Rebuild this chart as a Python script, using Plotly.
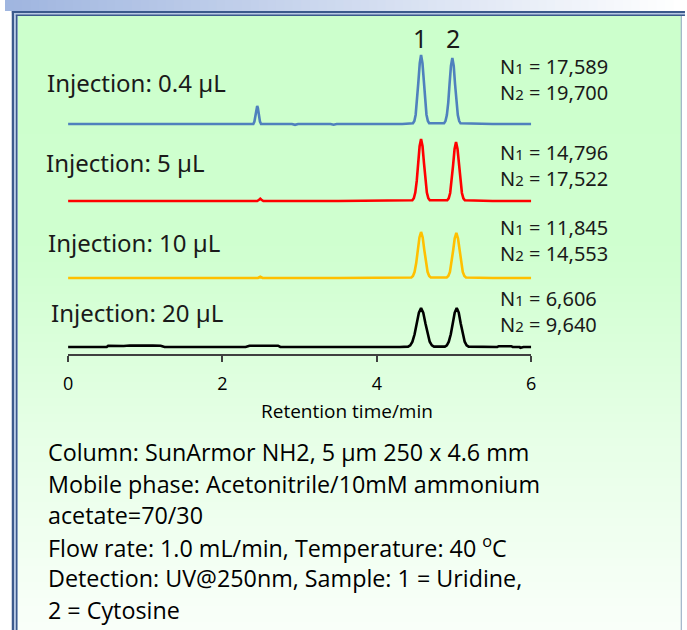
import plotly.graph_objects as go

W, H = 687, 630

# ---------------- data ----------------
injections = ["Injection: 0.4 µL", "Injection: 5 µL", "Injection: 10 µL", "Injection: 20 µL"]
plate_n1 = ["17,589", "14,796", "11,845", "6,606"]
plate_n2 = ["19,700", "17,522", "14,553", "9,640"]
peak_labels = ["1", "2"]
x_ticks = [0, 2, 4, 6]
x_title = "Retention time/min"
conditions = [
    "Column: SunArmor NH2, 5 µm 250 x 4.6 mm",
    "Mobile phase: Acetonitrile/10mM ammonium",
    "acetate=70/30",
    "Flow rate: 1.0 mL/min, Temperature: 40 <sup>o</sup>C",
    "Detection: UV@250nm, Sample: 1 = Uridine,",
    "2 = Cytosine",
]

# 0.4 uL (blue)
t_04 = [0.0, 1.0, 2.0, 2.40, 2.414, 2.423, 2.432, 2.441, 2.450, 2.459, 2.468, 2.477, 2.486, 2.50,
        2.90, 2.94, 2.98, 3.40, 3.44, 3.48, 3.85, 3.89, 3.93, 4.25, 4.29, 4.33,
        4.468, 4.486, 4.503, 4.521, 4.538, 4.556, 4.573, 4.591, 4.608, 4.626, 4.643, 4.661, 4.678,
        4.871, 4.889, 4.907, 4.925, 4.942, 4.960, 4.978, 4.996, 5.013, 5.031, 5.049, 5.067, 5.084,
        5.5, 6.0]
s_04 = [0, 0, 0, 0, 2.4, 5.8, 10.9, 15.9, 18, 15.9, 10.9, 5.8, 2.4, 0,
        0, -0.8, 0, 0, -0.7, 0, 0, -0.7, 0, 0, -0.6, 0,
        0.8, 3.0, 9.3, 22.4, 41.8, 60.9, 69, 60.9, 41.8, 22.4, 9.3, 3.0, 0.8,
        0.7, 2.9, 8.9, 21.4, 40.0, 58.2, 66, 58.2, 40.0, 21.4, 8.9, 2.9, 0.7,
        0, 0]

# 5 uL (red)
t_5 = [0.0, 1.0, 2.0, 2.45, 2.475, 2.49, 2.505, 2.53, 3.5,
       4.460, 4.479, 4.498, 4.517, 4.535, 4.554, 4.573, 4.592, 4.611, 4.629, 4.648, 4.667, 4.686,
       4.912, 4.931, 4.950, 4.969, 4.988, 5.007, 5.026, 5.045, 5.064, 5.083, 5.102, 5.121, 5.140,
       5.5, 6.0]
s_5 = [0, 0, 0, 0, 1.2, 2.2, 1.2, 0, 0,
       0.7, 2.7, 8.4, 20.1, 37.6, 54.7, 62, 54.7, 37.6, 20.1, 8.4, 2.7, 0.7,
       0.7, 2.6, 8.0, 19.2, 35.8, 52.1, 59, 52.1, 35.8, 19.2, 8.0, 2.6, 0.7,
       0, 0]

# 10 uL (yellow)
t_10 = [0.0, 1.0, 2.0, 2.46, 2.49, 2.52, 3.5,
        4.447, 4.468, 4.489, 4.510, 4.531, 4.552, 4.573, 4.594, 4.615, 4.636, 4.657, 4.678, 4.699,
        4.905, 4.926, 4.947, 4.967, 4.988, 5.009, 5.030, 5.051, 5.072, 5.093, 5.113, 5.134, 5.155,
        5.5, 6.0]
s_10 = [0, 0, 0, 0, 1.2, 0, 0,
        0.5, 2.0, 6.2, 14.9, 27.9, 40.6, 46, 40.6, 27.9, 14.9, 6.2, 2.0, 0.5,
        0.5, 2.0, 6.1, 14.6, 27.3, 39.7, 45, 39.7, 27.3, 14.6, 6.1, 2.0, 0.5,
        0, 0]

# 20 uL (black)
t_20 = [0.0, 0.30, 0.50, 0.52, 0.60, 0.65, 0.72, 0.80, 0.90, 0.95, 1.00, 1.05, 1.10, 1.20, 1.25,
        2.30, 2.35, 2.72, 2.75, 4.30,
        4.405, 4.433, 4.461, 4.489, 4.517, 4.545, 4.573, 4.601, 4.629, 4.657, 4.685, 4.713, 4.741,
        4.881, 4.907, 4.932, 4.958, 4.984, 5.009, 5.035, 5.061, 5.086, 5.112, 5.138, 5.163, 5.189,
        5.56, 5.58, 5.74, 5.76, 5.85, 5.86, 5.90, 6.0]
s_20 = [0, 0, 0, 1.3, 1.0, 1.4, 1.0, 1.5, 1.3, 1.0, 1.4, 1.0, 1.4, 1.3, 0,
        0, 1.3, 1.3, 0, 0,
        0.4, 1.7, 5.3, 12.7, 23.7, 34.4, 39, 34.4, 23.7, 12.7, 5.3, 1.7, 0.4,
        0.4, 1.7, 5.3, 12.7, 23.7, 34.4, 39, 34.4, 23.7, 12.7, 5.3, 1.7, 0.4,
        0, 0.8, 0.8, 0, 0, -0.8, 0, 0]

times = [t_04, t_5, t_10, t_20]
signals = [s_04, s_5, s_10, s_20]

# ---------------- styles / layout ----------------
colors = ["#4f81bd", "#ff0000", "#ffc000", "#000000"]
offsets = [230, 153, 76, 7]          # vertical stacking of the chromatograms
inj_label_pos = [(41, 83), (40, 163), (42, 243), (45, 312)]
n_label_y = [79, 165.5, 240.5, 311.5]

PLOT_L, PLOT_R, PLOT_T, PLOT_B = 64, 534, 30, 354
Y_SPAN = PLOT_B - PLOT_T

GOTHIC = "Noto Sans"
CALIBRI = "Open Sans"


def px(x):
    return x / W


def py(y):
    return 1 - y / H


fig = go.Figure()
for t, s, c, off in zip(times, signals, colors, offsets):
    fig.add_trace(go.Scatter(x=t, y=[v + off for v in s], mode="lines",
                             line=dict(color=c, width=2.6), hoverinfo="skip",
                             showlegend=False))

shapes = []
# top band horizontal gradient
n = 80
for i in range(n):
    f = i / (n - 1)
    r = int(160 + (255 - 160) * f)
    g = int(182 + (255 - 182) * f)
    b = int(224 + (255 - 224) * f)
    shapes.append(dict(type="rect", xref="paper", yref="paper",
                       x0=px(W * i / n), x1=px(W * (i + 1) / n + 1), y0=py(0), y1=py(11),
                       fillcolor=f"rgb({r},{g},{b})", line=dict(width=0), layer="below"))
# panel green vertical gradient
stops = [(14, 204), (250, 208), (450, 232), (630, 250)]
ys = list(range(14, 631, 8))
for y0 in ys:
    yc = y0 + 4
    for (a, ca), (bb, cb) in zip(stops[:-1], stops[1:]):
        if a <= yc <= bb:
            v = ca + (cb - ca) * (yc - a) / (bb - a)
            break
    else:
        v = stops[-1][1]
    v = int(v)
    shapes.append(dict(type="rect", xref="paper", yref="paper",
                       x0=px(10), x1=px(687), y0=py(y0), y1=py(min(y0 + 9, 631)),
                       fillcolor=f"rgb({v},255,{v})", line=dict(width=0), layer="below"))
# borders (double frame)
frame_dark = "#3b5a8c"
frame_gap = "#b8c9e4"
shapes += [
    dict(type="rect", xref="paper", yref="paper", x0=px(7), x1=px(13), y0=py(11), y1=py(640),
         fillcolor=frame_gap, line=dict(width=0), layer="below"),
    dict(type="rect", xref="paper", yref="paper", x0=px(7), x1=px(690), y0=py(11), y1=py(16),
         fillcolor=frame_gap, line=dict(width=0), layer="below"),
    dict(type="line", xref="paper", yref="paper", x0=px(8), x1=px(8), y0=py(11), y1=py(640),
         line=dict(color=frame_dark, width=2.2), layer="below"),
    dict(type="line", xref="paper", yref="paper", x0=px(7), x1=px(690), y0=py(12), y1=py(12),
         line=dict(color=frame_dark, width=2.2), layer="below"),
    dict(type="line", xref="paper", yref="paper", x0=px(11.8), x1=px(11.8), y0=py(15), y1=py(640),
         line=dict(color=frame_dark, width=1.5), layer="below"),
    dict(type="line", xref="paper", yref="paper", x0=px(11), x1=px(690), y0=py(15.3), y1=py(15.3),
         line=dict(color=frame_dark, width=1.5), layer="below"),
    dict(type="line", xref="paper", yref="paper", x0=px(686.3), x1=px(686.3), y0=py(16), y1=py(640),
         line=dict(color="#9fb3c8", width=1.2), layer="below"),
]

ann = []
for (lx, ly), txt in zip(inj_label_pos, injections):
    ann.append(dict(x=px(lx), y=py(ly), text=txt, xanchor="left", yanchor="middle",
                    font=dict(family=GOTHIC, size=24, color="#1a1a1a")))
for yc, n1, n2 in zip(n_label_y, plate_n1, plate_n2):
    ann.append(dict(x=px(500), y=py(yc), xanchor="left", yanchor="middle", align="left",
                    text=(f"N<span style='font-size:15px'>1</span> = {n1}<br>"
                          f"N<span style='font-size:15px'>2</span> = {n2}"),
                    font=dict(family=GOTHIC, size=20, color="#1a1a1a")))
for lbl, lx in zip(peak_labels, [421, 455]):
    ann.append(dict(x=px(lx), y=py(38), text=lbl, xanchor="center", yanchor="middle",
                    font=dict(family=GOTHIC, size=25, color="#1a1a1a")))
ann.append(dict(x=px(347), y=py(411), text=x_title, xanchor="center", yanchor="middle",
                font=dict(family=CALIBRI, size=19, color="#000000")))
for i, line in enumerate(conditions):
    ann.append(dict(x=px(42), y=py(452 + 31.6 * i), text=line, xanchor="left", yanchor="middle",
                    font=dict(family=CALIBRI, size=23.3, color="#000000")))
for a in ann:
    a.update(xref="paper", yref="paper", showarrow=False)

fig.update_layout(
    width=W, height=H, margin=dict(l=0, r=0, t=0, b=0),
    paper_bgcolor="white", plot_bgcolor="rgba(0,0,0,0)",
    shapes=shapes, annotations=ann, showlegend=False,
    xaxis=dict(domain=[px(PLOT_L), px(PLOT_R)], range=[0, 6], tickvals=x_ticks,
               showline=True, linecolor="#404040", linewidth=1.6, ticks="outside",
               ticklen=6, tickwidth=1.6, tickcolor="#404040", showgrid=False, zeroline=False,
               tickfont=dict(family=CALIBRI, size=18, color="#000000"), ticklabelstandoff=7),
    yaxis=dict(domain=[py(PLOT_B), py(PLOT_T)], range=[0, Y_SPAN], visible=False,
               showgrid=False, zeroline=False),
)

fig.write_html("out.html", config={"displayModeBar": False},
               post_script="document.body.style.margin='0';document.body.style.overflow='hidden';")
